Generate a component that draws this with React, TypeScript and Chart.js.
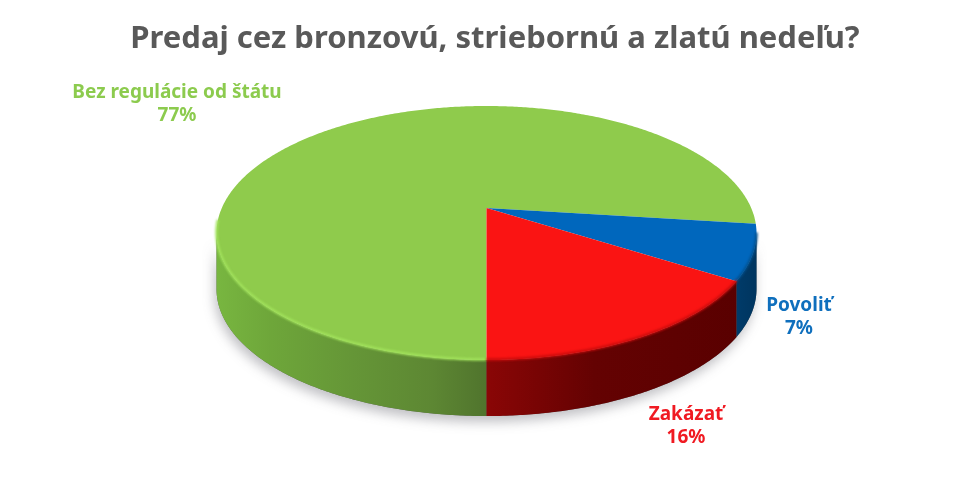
import React, { useEffect, useRef } from "react";
import { Chart, registerables } from "chart.js";

Chart.register(...registerables);

const titleText = "Predaj cez bronzovú, striebornú a zlatú nedeľu?";
const categories = ["Bez regulácie od štátu", "Povoliť", "Zakázať"];
const shares = [77, 7, 16];
const topColors = ["#8fcb4c", "#0067bd", "#fa1413"];
const lipColors = ["#a2e35c", "#00508f", "#c80c0c"];
const textColors = ["#8ccb4e", "#0f6fbd", "#f01a22"];
const wallStops: [number, string][][] = [
  [[0, "#78b640"], [0.1, "#6ea63a"], [0.25, "#659637"], [0.4, "#5d8733"], [0.5, "#50742d"], [1, "#50742d"]],
  [[0, "#003f70"], [0.94, "#003f70"], [1, "#00355f"]],
  [[0, "#8c0707"], [0.5, "#8a0606"], [0.7, "#640202"], [1, "#580000"]],
];
const labelAnchors = [
  { x: 177, y: 98 },
  { x: 799, y: 311 },
  { x: 686, y: 420 },
];
const font = '"Noto Sans", sans-serif';

const cx = 486.5, apexY = 208, depth = 56, k = -0.197, a = 264.7, b = 122.1;
const project = (t: number) => {
  const x = Math.cos(t), y = Math.sin(t), w = 1 + k * y;
  return { x: cx + (a * x) / w, y: apexY + (b * y) / w };
};
const trace = (ctx: CanvasRenderingContext2D, s: number, e: number, dy: number, move: boolean) => {
  const n = Math.max(2, Math.ceil(Math.abs(e - s) / 0.01));
  for (let i = 0; i <= n; i++) {
    const p = project(s + ((e - s) * i) / n);
    if (i === 0 && move) ctx.moveTo(p.x, p.y + dy);
    else ctx.lineTo(p.x, p.y + dy);
  }
};
const silhouetteY = Math.asin(-k);
const wallFrom = silhouetteY, wallTo = Math.PI - silhouetteY;

const pie3d = {
  id: "pie3d",
  beforeDatasetsDraw(chart: any) {
    const ctx: CanvasRenderingContext2D = chart.ctx;
    const arcs = chart.getDatasetMeta(0).data;
    ctx.save();
    ctx.filter = "blur(0.6px)";

    // soft shadow under the disc
    ctx.save();
    ctx.shadowColor = "rgba(60,60,70,0.32)";
    ctx.shadowBlur = 12;
    ctx.shadowOffsetX = -2;
    ctx.shadowOffsetY = 6;
    ctx.fillStyle = "#666";
    ctx.beginPath();
    trace(ctx, wallFrom, wallTo, depth, true);
    trace(ctx, wallTo, wallFrom, 0, false);
    ctx.closePath();
    ctx.fill();
    ctx.restore();

    // side walls
    const walls: [number, number, number][] = [];
    arcs.forEach((arc: any, i: number) => {
      const { startAngle, endAngle } = arc.getProps(["startAngle", "endAngle"], true);
      for (const shift of [0, 2 * Math.PI]) {
        const s = Math.max(startAngle, wallFrom + shift);
        const e = Math.min(endAngle, wallTo + shift);
        if (e <= s) continue;
        walls.push([i, s, e]);
        const g = ctx.createLinearGradient(217, 0, 756, 0);
        wallStops[i].forEach(([o, c]) => g.addColorStop(o, c));
        ctx.fillStyle = g;
        ctx.beginPath();
        trace(ctx, s, e, 0, true);
        trace(ctx, e, s, depth, false);
        ctx.closePath();
        ctx.fill();
      }
    });

    // top faces
    arcs.forEach((arc: any, i: number) => {
      const { startAngle, endAngle } = arc.getProps(["startAngle", "endAngle"], true);
      ctx.fillStyle = topColors[i];
      ctx.beginPath();
      ctx.moveTo(cx, apexY);
      trace(ctx, startAngle, endAngle, 0, false);
      ctx.closePath();
      ctx.fill();
    });

    // soft lip along the front edge of each slice
    ctx.filter = "blur(1px)";
    ctx.lineWidth = 2.5;
    walls.forEach(([i, s, e]) => {
      ctx.strokeStyle = lipColors[i];
      ctx.beginPath();
      trace(ctx, s, i === 0 ? e + 0.1 : e, -0.5, true);
      ctx.stroke();
    });
    ctx.restore();
    return false;
  },
  afterDraw(chart: any) {
    const ctx: CanvasRenderingContext2D = chart.ctx;
    ctx.save();
    ctx.textAlign = "center";
    ctx.font = `bold 19px ${font}`;
    categories.forEach((name, i) => {
      ctx.fillStyle = textColors[i];
      ctx.fillText(name, labelAnchors[i].x, labelAnchors[i].y);
      ctx.fillText(`${shares[i]}%`, labelAnchors[i].x, labelAnchors[i].y + 23);
    });
    ctx.restore();
  },
};

export default function App() {
  const ref = useRef<HTMLCanvasElement>(null);
  useEffect(() => {
    const chart = new Chart(ref.current!, {
      type: "pie",
      data: {
        labels: categories,
        datasets: [{ data: shares, backgroundColor: topColors, borderWidth: 0 }],
      },
      options: {
        responsive: false,
        animation: false,
        events: [],
        rotation: 180,
        layout: { padding: { left: 20 } },
        plugins: {
          legend: { display: false },
          tooltip: { enabled: false },
          title: {
            display: true,
            text: titleText,
            color: "#595959",
            font: { family: font, size: 31, weight: "bold" },
            padding: { top: 21, bottom: 10 },
          },
        },
      },
      plugins: [pie3d],
    } as any);
    return () => chart.destroy();
  }, []);
  return (
    <div style={{ position: "absolute", left: 0, top: 0, width: 970, height: 481, background: "#fff" }}>
      <canvas ref={ref} width={970} height={481} style={{ display: "block" }} />
    </div>
  );
}
